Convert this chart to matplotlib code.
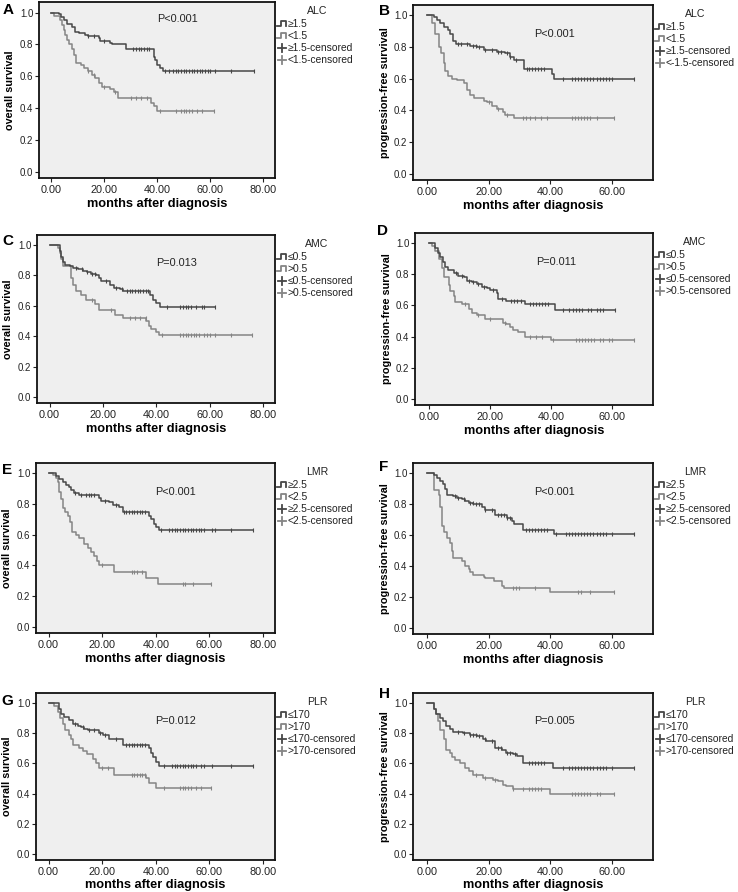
import numpy as np
import matplotlib
matplotlib.use('Agg')
import matplotlib.pyplot as plt
from matplotlib.lines import Line2D

plt.rcParams['font.family'] = ['Liberation Sans', 'DejaVu Sans']

W, H = 738, 892

# ---- data (event times, survival after each step, censored times) ----
a_hi_t = [2.8, 3.8, 4.7, 5.9, 7.8, 9.0, 10.3, 12.8, 14.0, 17.9, 18.5, 22.3, 23.0, 28.0, 38.6, 39.2, 39.9, 41.1, 42.1]
a_hi_s = [0.99, 0.97, 0.95, 0.93, 0.91, 0.88, 0.87, 0.86, 0.85, 0.84, 0.82, 0.81, 0.80, 0.77, 0.72, 0.70, 0.67, 0.65, 0.63]
a_hi_c = [14, 16, 20, 31, 32, 33, 34, 35, 36, 37, 43, 44.5, 46, 47, 48, 49, 50, 51, 52, 53, 54, 55, 56, 57, 58, 59, 60, 62, 68, 76.4]
a_lo_t = [0.9, 3.4, 4.0, 4.7, 5.3, 5.9, 6.5, 7.8, 8.7, 9.4, 11.0, 12.2, 13.7, 15.3, 16.6, 17.9, 19.1, 22.3, 23.5, 25.0, 37.6, 38.6, 39.9]
a_lo_s = [0.98, 0.95, 0.92, 0.89, 0.86, 0.83, 0.80, 0.77, 0.73, 0.68, 0.67, 0.65, 0.63, 0.61, 0.59, 0.56, 0.53, 0.52, 0.50, 0.46, 0.43, 0.41, 0.38]
a_lo_c = [14, 16, 20, 24, 30, 32, 34, 36, 41, 47, 49, 50, 51, 52, 53, 55, 57, 61.3]

b_hi_t = [2.2, 3.2, 4.3, 5.6, 6.7, 7.6, 8.6, 9.5, 14.0, 16.2, 18.4, 22.7, 25.4, 27.0, 28.1, 31.4, 40.5, 41.3]
b_hi_s = [0.99, 0.97, 0.95, 0.93, 0.91, 0.88, 0.84, 0.82, 0.81, 0.80, 0.78, 0.77, 0.76, 0.74, 0.72, 0.66, 0.63, 0.60]
b_hi_c = [10, 11, 13, 15, 16, 17, 19, 21, 23, 24, 26, 27, 29, 32.5, 33, 34, 35, 36, 37, 38, 44, 47, 48, 49, 50, 51, 52, 53, 54, 55, 56, 57, 58, 59, 60, 67]
b_lo_t = [1.6, 2.7, 3.8, 4.5, 5.4, 5.9, 7.0, 8.1, 9.7, 11.9, 13.0, 14.0, 15.4, 18.4, 19.5, 21.0, 22.7, 24.6, 25.4, 28.3]
b_lo_s = [0.95, 0.88, 0.80, 0.76, 0.70, 0.65, 0.62, 0.60, 0.59, 0.57, 0.53, 0.50, 0.48, 0.46, 0.45, 0.43, 0.41, 0.39, 0.37, 0.35]
b_lo_c = [20, 23, 26, 31, 32, 33.5, 35, 37, 39, 47, 48, 49, 50, 51, 52, 53, 55, 60.5]

c_hi_t = [3.75, 4.4, 5.0, 5.9, 7.5, 8.75, 10.6, 12.5, 14.0, 15.6, 17.5, 18.5, 19.4, 22.5, 24.0, 26.25, 27.5, 37.5, 38.75, 40.0, 41.25]
c_hi_s = [0.96, 0.92, 0.89, 0.87, 0.86, 0.85, 0.84, 0.83, 0.82, 0.81, 0.80, 0.78, 0.76, 0.74, 0.72, 0.71, 0.70, 0.67, 0.64, 0.62, 0.59]
c_hi_c = [10, 12, 14, 16, 17, 21, 25, 27, 29, 30, 31, 32, 33, 34, 35, 36, 37, 44, 49, 50, 51, 52, 53, 55, 57, 58, 62]
c_lo_t = [3.1, 3.75, 4.4, 5.0, 8.1, 8.75, 9.75, 11.9, 13.75, 16.9, 18.5, 24.4, 27.5, 36.25, 37.25, 38.1, 40.0, 41.0]
c_lo_s = [0.98, 0.95, 0.91, 0.86, 0.78, 0.74, 0.70, 0.67, 0.64, 0.61, 0.57, 0.54, 0.52, 0.50, 0.47, 0.45, 0.43, 0.41]
c_lo_c = [16, 23, 30, 32, 34, 36, 42, 49, 50, 51, 52, 53, 54, 55, 56, 58, 59, 60, 62, 68, 76]

d_hi_t = [2.2, 3.0, 3.8, 4.5, 5.4, 6.3, 8.1, 9.5, 11.4, 12.4, 14.0, 15.7, 17.3, 18.9, 20.0, 22.2, 22.7, 25.4, 31.4, 41.3]
d_hi_s = [0.97, 0.94, 0.91, 0.88, 0.85, 0.83, 0.81, 0.79, 0.78, 0.76, 0.75, 0.74, 0.72, 0.71, 0.70, 0.68, 0.64, 0.63, 0.61, 0.57]
d_hi_c = [9, 11, 13, 14.5, 16, 18, 21, 24, 27, 28, 29, 30, 33, 34, 35, 36, 37, 38, 39, 44, 46, 47, 48, 49, 50, 52, 53, 55, 56, 57, 61]
d_lo_t = [1.1, 2.2, 3.2, 4.3, 4.9, 6.5, 7.0, 8.1, 8.6, 10.8, 13.0, 14.0, 15.7, 18.4, 24.3, 25.4, 26.5, 27.6, 29.2, 31.4, 40.0]
d_lo_s = [0.98, 0.95, 0.90, 0.84, 0.78, 0.73, 0.69, 0.66, 0.62, 0.61, 0.58, 0.55, 0.54, 0.51, 0.49, 0.48, 0.46, 0.44, 0.43, 0.40, 0.38]
d_lo_c = [12, 16, 20, 25, 33, 35, 37, 40.5, 48, 49, 50, 51, 52, 53, 54, 56, 57, 59, 60, 67]

e_hi_t = [2.7, 4.0, 5.2, 6.5, 7.7, 8.3, 9.6, 11.5, 18.9, 19.6, 22.7, 23.9, 26.4, 27.6, 37.6, 38.2, 39.5, 40.1, 41.3]
e_hi_s = [0.98, 0.96, 0.94, 0.92, 0.91, 0.89, 0.87, 0.86, 0.84, 0.82, 0.81, 0.79, 0.78, 0.75, 0.72, 0.70, 0.67, 0.65, 0.63]
e_hi_c = [10, 12, 14, 15, 16, 17, 21, 25, 28, 29, 30, 31, 32, 33, 34, 35, 36, 42, 45, 46, 47, 48, 49, 50, 51, 52, 53, 54, 55, 56, 57, 58, 61, 62, 68, 76.2]
e_lo_t = [1.5, 2.7, 3.4, 4.0, 4.6, 5.2, 6.2, 7.1, 8.0, 8.7, 10.2, 11.5, 13.3, 14.6, 15.8, 17.1, 17.9, 18.7, 24.5, 36.4, 40.7]
e_lo_s = [0.99, 0.97, 0.94, 0.88, 0.83, 0.77, 0.75, 0.72, 0.68, 0.62, 0.60, 0.58, 0.54, 0.51, 0.49, 0.46, 0.43, 0.40, 0.36, 0.32, 0.28]
e_lo_c = [20, 31, 32, 33, 35, 50, 51, 54, 60.6]

f_hi_t = [2.2, 3.2, 4.3, 5.2, 5.9, 6.5, 8.6, 9.9, 11.4, 12.4, 13.5, 15.1, 17.8, 18.9, 22.2, 25.9, 27.6, 28.1, 31.1, 41.1]
f_hi_s = [0.99, 0.97, 0.95, 0.93, 0.90, 0.86, 0.85, 0.84, 0.83, 0.82, 0.81, 0.80, 0.78, 0.76, 0.73, 0.71, 0.69, 0.67, 0.63, 0.61]
f_hi_c = [9, 10, 12, 14, 15, 16, 17, 19, 21, 23, 24, 25, 26, 27, 32, 33, 34, 35, 36, 37, 38, 39, 42, 45, 46, 47, 48, 49, 50, 51, 52, 53, 54, 55, 56, 57, 58, 60, 67]
f_lo_t = [2.2, 3.8, 4.3, 4.9, 5.6, 6.5, 7.6, 8.1, 8.6, 11.4, 12.4, 13.5, 14.0, 15.1, 18.4, 18.9, 21.6, 24.3, 24.9, 40.0]
f_lo_s = [0.89, 0.86, 0.78, 0.66, 0.62, 0.58, 0.55, 0.50, 0.45, 0.43, 0.40, 0.38, 0.36, 0.34, 0.33, 0.32, 0.30, 0.27, 0.26, 0.23]
f_lo_c = [28, 29, 30, 35, 49, 50, 53, 60.5]

g_hi_t = [3.7, 4.6, 5.9, 7.7, 9.0, 10.8, 12.1, 13.3, 14.6, 18.9, 20.2, 22.7, 27.6, 37.6, 38.2, 39.1, 40.1, 41.3]
g_hi_s = [0.96, 0.93, 0.91, 0.89, 0.86, 0.85, 0.84, 0.83, 0.82, 0.80, 0.79, 0.76, 0.72, 0.70, 0.67, 0.64, 0.61, 0.58]
g_hi_c = [10, 13, 15, 17, 19, 21, 25, 29, 30, 31, 32, 33, 34, 35, 36, 43, 46, 47, 48, 49, 50, 51, 52, 53, 54, 55, 57, 58, 61, 68, 76.2]
g_lo_t = [2.1, 3.4, 4.2, 5.2, 6.2, 7.7, 8.3, 9.2, 11.5, 12.7, 14.2, 16.4, 17.7, 18.7, 24.5, 36.4, 37.6, 40.1]
g_lo_s = [0.98, 0.94, 0.90, 0.86, 0.82, 0.79, 0.76, 0.72, 0.70, 0.68, 0.66, 0.63, 0.60, 0.57, 0.52, 0.50, 0.47, 0.44]
g_lo_c = [20, 22, 31, 32, 33, 34, 35, 36, 43, 49, 50, 51, 52, 53, 55, 57, 60.6]

h_hi_t = [2.2, 3.0, 4.1, 5.2, 6.3, 7.4, 8.5, 11.7, 13.9, 16.1, 18.2, 19.3, 22.0, 24.2, 25.8, 28.0, 29.1, 31.2, 41.0]
h_hi_s = [0.96, 0.93, 0.90, 0.88, 0.85, 0.83, 0.81, 0.80, 0.79, 0.78, 0.76, 0.75, 0.70, 0.69, 0.67, 0.66, 0.65, 0.60, 0.57]
h_hi_c = [10, 12, 14, 15, 16, 17, 19, 21, 23, 24, 26, 27, 28.5, 33, 34, 35, 36, 37, 38, 44, 46, 47, 48, 49, 50, 51, 52, 53, 54, 55, 56, 57, 58, 60, 67]
h_lo_t = [2.2, 2.8, 3.6, 4.3, 5.4, 6.3, 7.4, 8.2, 9.0, 10.6, 12.3, 13.7, 15.0, 18.2, 21.5, 23.1, 24.7, 25.8, 28.0, 40.0]
h_lo_s = [0.96, 0.93, 0.88, 0.82, 0.76, 0.69, 0.67, 0.64, 0.62, 0.60, 0.57, 0.55, 0.52, 0.50, 0.49, 0.48, 0.46, 0.45, 0.43, 0.40]
h_lo_c = [16, 19, 22, 28, 31, 33, 34, 35, 36, 37, 47, 48, 49, 50, 51, 52, 53, 55, 56, 60.5]

letters = ['A', 'B', 'C', 'D', 'E', 'F', 'G', 'H']
p_texts = ['P<0.001', 'P<0.001', 'P=0.013', 'P=0.011', 'P<0.001', 'P<0.001', 'P=0.012', 'P=0.005']
leg_titles = ['ALC', 'ALC', 'AMC', 'AMC', 'LMR', 'LMR', 'PLR', 'PLR']
leg_labels = [
    ['≥1.5', '<1.5', '≥1.5-censored', '<1.5-censored'],
    ['≥1.5', '<1.5', '≥1.5-censored', '<-1.5-censored'],
    ['≤0.5', '>0.5', '≤0.5-censored', '>0.5-censored'],
    ['≤0.5', '>0.5', '≤0.5-censored', '>0.5-censored'],
    ['≥2.5', '<2.5', '≥2.5-censored', '<2.5-censored'],
    ['≥2.5', '<2.5', '≥2.5-censored', '<2.5-censored'],
    ['≤170', '>170', '≤170-censored', '>170-censored'],
    ['≤170', '>170', '≤170-censored', '>170-censored'],
]
curves = [
    (a_hi_t, a_hi_s, a_hi_c, a_lo_t, a_lo_s, a_lo_c),
    (b_hi_t, b_hi_s, b_hi_c, b_lo_t, b_lo_s, b_lo_c),
    (c_hi_t, c_hi_s, c_hi_c, c_lo_t, c_lo_s, c_lo_c),
    (d_hi_t, d_hi_s, d_hi_c, d_lo_t, d_lo_s, d_lo_c),
    (e_hi_t, e_hi_s, e_hi_c, e_lo_t, e_lo_s, e_lo_c),
    (f_hi_t, f_hi_s, f_hi_c, f_lo_t, f_lo_s, f_lo_c),
    (g_hi_t, g_hi_s, g_hi_c, g_lo_t, g_lo_s, g_lo_c),
    (h_hi_t, h_hi_s, h_hi_c, h_lo_t, h_lo_s, h_lo_c),
]

# ---- layout (pixel boxes: left, top, right, bottom) ----
boxes = [(39, 2, 275, 178), (413, 5, 653, 180),
         (37, 235, 275, 403), (415, 233, 653, 405),
         (36, 463, 275, 633), (413, 463, 653, 634),
         (36, 693, 275, 860), (413, 693, 653, 860)]
letter_pos = [(8, 10), (385, 11), (8, 241), (383, 231), (7, 470), (384, 467), (7, 701), (384, 694)]

DARK = '#474747'
LIGHT = '#858585'


def surv_at(t_ev, s_ev, tc):
    t = np.r_[0.0, t_ev]
    s = np.r_[1.0, s_ev]
    idx = np.searchsorted(t, tc, side='right') - 1
    return s[idx]


def draw_curve(ax, t_ev, s_ev, cens, color):
    end = max(cens[-1], t_ev[-1])
    x = np.r_[0.0, t_ev, end]
    y = np.r_[1.0, s_ev, s_ev[-1]]
    ax.step(x, y, where='post', color=color, lw=1.1)
    cens = np.array(cens, dtype=float)
    ax.plot(cens, surv_at(t_ev, s_ev, cens), ls='none', marker='|',
            ms=3.5, mew=0.8, color=color)


def fx(x):
    return x / W


def fy(y):
    return 1 - y / H


fig = plt.figure(figsize=(W / 100, H / 100), dpi=100)
fig.patch.set_facecolor('white')

for i in range(8):
    l, t, r, b = boxes[i]
    ax = fig.add_axes([fx(l), fy(b), (r - l) / W, (b - t) / H])
    ax.set_facecolor('#efefef')
    hi_t, hi_s, hi_c, lo_t, lo_s, lo_c = curves[i]
    draw_curve(ax, lo_t, lo_s, lo_c, LIGHT)
    draw_curve(ax, hi_t, hi_s, hi_c, DARK)

    os_panel = (i % 2 == 0)
    if os_panel:
        ax.set_xlim(-4.7, 84.5)
        ax.set_xticks([0, 20, 40, 60, 80])
        ax.set_ylabel('overall survival', fontsize=7.8, fontweight='bold')
        ax.yaxis.set_label_coords(-24.0 / (r - l), 0.5)
        px_t = 47.5
    else:
        ax.set_xlim(-4.5, 73.3)
        ax.set_xticks([0, 20, 40, 60])
        ax.set_ylabel('progression-free survival', fontsize=7.8, fontweight='bold')
        ax.yaxis.set_label_coords(-23.0 / (r - l), 0.5)
        px_t = 41.5
    ax.set_ylim(-0.04, 1.066)
    ax.set_yticks([0, 0.2, 0.4, 0.6, 0.8, 1.0])
    ax.set_xticklabels(['%.2f' % v for v in ax.get_xticks()])
    ax.set_yticklabels(['%.1f' % v for v in ax.get_yticks()])
    ax.tick_params(direction='out', length=3, width=0.8, colors='#222222', pad=2)
    ax.tick_params(axis='x', labelsize=7.8)
    ax.tick_params(axis='y', labelsize=7.0, pad=1)
    ax.set_xlabel('months after diagnosis', fontsize=9.2, fontweight='bold',
                  labelpad=1.5 if i >= 6 else 2.5)
    for sp in ax.spines.values():
        sp.set_linewidth(1.3)
        sp.set_color('#111111')

    p_y = 0.96 if i == 0 else 0.88
    ax.text(px_t, p_y, p_texts[i], fontsize=7.8, ha='center', va='center', color='#222222')

    # panel letter
    lx, ly = letter_pos[i]
    fig.text(fx(lx), fy(ly), letters[i], fontsize=11, fontweight='bold',
             ha='center', va='center')

    # legend drawn by hand, SPSS style
    fig.text(fx(r + 42), fy(t + 9), leg_titles[i], fontsize=7.6, ha='center',
             va='center', color='#222222')
    rows = [t + 22, t + 34, t + 46, t + 58]
    cols = [DARK, LIGHT, DARK, LIGHT]
    for k in range(4):
        yy = rows[k]
        if k < 2:
            xs = [r + 2, r + 6, r + 6, r + 11, r + 11]
            ys = [yy + 2, yy + 2, yy - 3, yy - 3, yy + 2]
        else:
            xs = [r + 3, r + 11]
            ys = [yy, yy]
            fig.add_artist(Line2D([fx(r + 7), fx(r + 7)], [fy(yy - 4), fy(yy + 4)],
                                  transform=fig.transFigure, color=cols[k], lw=1.3))
        fig.add_artist(Line2D([fx(v) for v in xs], [fy(v) for v in ys],
                              transform=fig.transFigure, color=cols[k], lw=1.3))
        fig.text(fx(r + 12.5), fy(yy), leg_labels[i][k], fontsize=7.4, ha='left',
                 va='center', color='#222222')

fig.savefig('out.png', dpi=100)
